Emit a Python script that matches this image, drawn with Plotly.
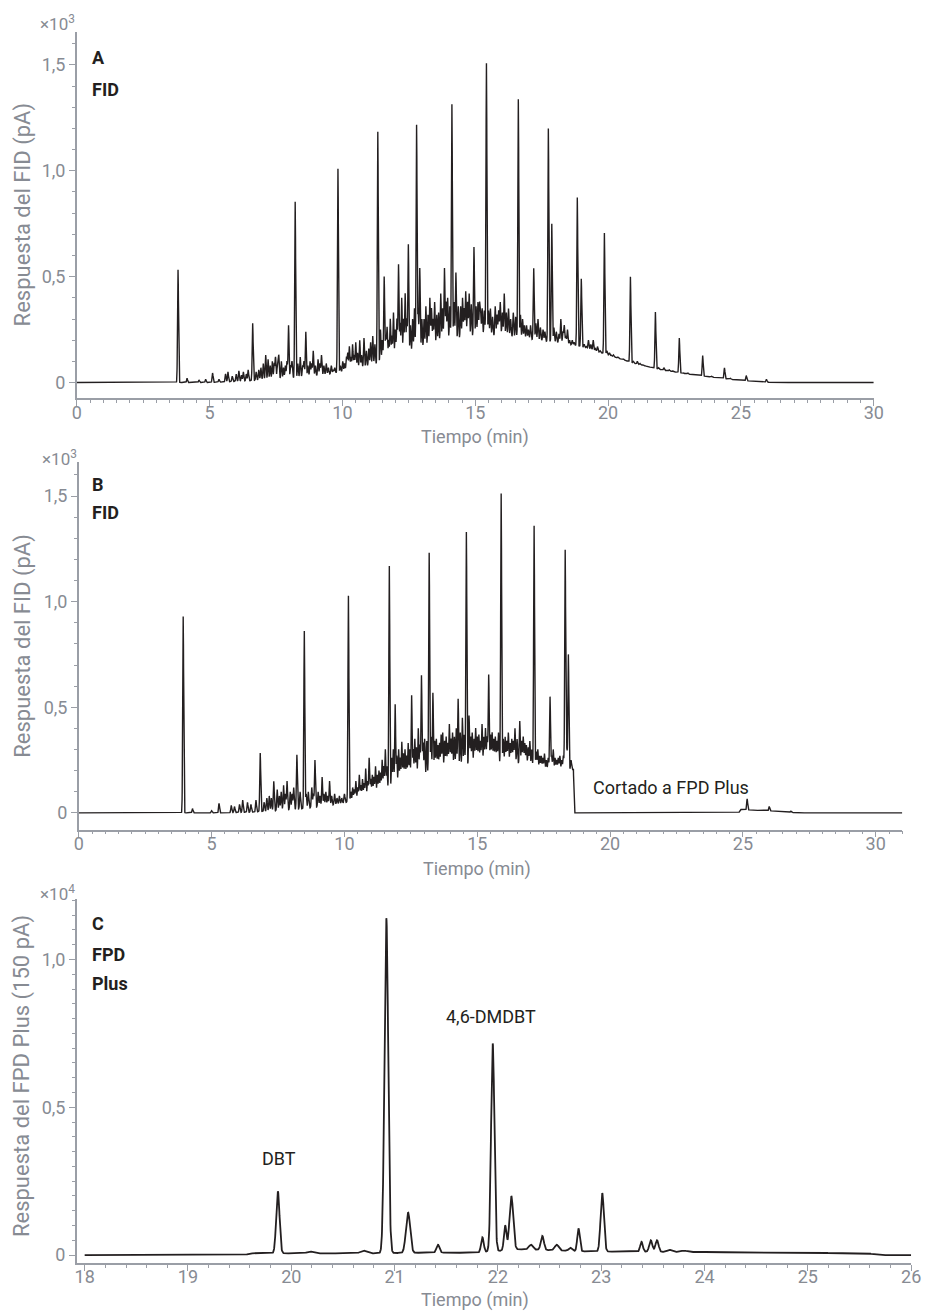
import numpy as np
import plotly.graph_objects as go

# ---------------- Panel A (FID, x10^3 pA) ----------------
A_peak_time = [3.81, 4.15, 4.6, 4.85, 5.11, 5.35, 5.6, 5.69, 5.85, 6.0, 6.1, 6.2, 6.27, 6.38, 6.45,
               6.62, 6.75, 6.85, 6.93, 7.02, 7.11, 7.2, 7.28, 7.36, 7.43, 7.48, 7.55, 7.6, 7.7, 7.78,
               7.85, 7.91, 7.97, 8.05, 8.1, 8.22, 8.32, 8.41, 8.5, 8.55, 8.62, 8.7, 8.78, 8.84, 8.9,
               8.98, 9.08, 9.15, 9.21, 9.3, 9.39, 9.47, 9.58, 9.65, 9.71, 9.83, 9.92, 10.01, 10.08, 10.15,
               10.2, 10.26, 10.32, 10.38, 10.44, 10.5, 10.57, 10.65, 10.72, 10.81, 10.9, 10.99, 11.06, 11.14, 11.22,
               11.33, 11.43, 11.5, 11.57, 11.63, 11.68, 11.74, 11.8, 11.86, 11.92, 11.99, 12.05, 12.11, 12.17, 12.23,
               12.3, 12.36, 12.42, 12.48, 12.56, 12.64, 12.71, 12.79, 12.85, 12.91, 12.99, 13.07, 13.14, 13.22, 13.29,
               13.35, 13.41, 13.47, 13.55, 13.62, 13.7, 13.77, 13.84, 13.9, 13.96, 14.04, 14.12, 14.2, 14.27, 14.36,
               14.45, 14.52, 14.58, 14.64, 14.71, 14.77, 14.85, 14.95, 15.03, 15.1, 15.16, 15.2, 15.26, 15.34, 15.42,
               15.5, 15.57, 15.65, 15.75, 15.82, 15.88, 15.94, 16.02, 16.09, 16.17, 16.25, 16.33, 16.43, 16.52, 16.62,
               16.7, 16.78, 16.85, 16.93, 17.0, 17.08, 17.2, 17.28, 17.36, 17.45, 17.55, 17.62, 17.75, 17.88, 17.96,
               18.05, 18.15, 18.22, 18.3, 18.35, 18.41, 18.47, 18.55, 18.65, 18.72, 18.84, 18.99, 19.1, 19.18, 19.26,
               19.35, 19.44, 19.52, 19.6, 19.7, 19.86, 19.95, 20.05, 20.12, 20.2, 20.3, 20.38, 20.5, 20.6, 20.84,
               20.95, 21.1, 21.2, 21.3, 21.4, 21.5, 21.78, 21.9, 22.1, 22.3, 22.45, 22.68, 22.85, 23.0, 23.2,
               23.56, 23.7, 23.9, 24.38, 24.6, 25.2, 25.96]
A_peak_height = [0.533, 0.02, 0.012, 0.015, 0.045, 0.015, 0.04, 0.05, 0.03, 0.04, 0.055, 0.035, 0.05, 0.04, 0.06,
                 0.28, 0.05, 0.06, 0.07, 0.09, 0.13, 0.11, 0.08, 0.10, 0.09, 0.12, 0.08, 0.13, 0.10, 0.07,
                 0.08, 0.10, 0.27, 0.08, 0.10, 0.854, 0.09, 0.12, 0.08, 0.10, 0.24, 0.08, 0.10, 0.09, 0.15,
                 0.08, 0.11, 0.09, 0.13, 0.08, 0.09, 0.07, 0.08, 0.06, 0.07, 1.01, 0.08, 0.10, 0.09, 0.12,
                 0.14, 0.17, 0.12, 0.18, 0.13, 0.19, 0.14, 0.20, 0.13, 0.21, 0.15, 0.16, 0.19, 0.22, 0.18,
                 1.185, 0.25, 0.20, 0.50, 0.22, 0.26, 0.20, 0.30, 0.22, 0.33, 0.25, 0.30, 0.557, 0.28, 0.40,
                 0.30, 0.42, 0.30, 0.653, 0.27, 0.30, 0.35, 1.217, 0.33, 0.54, 0.30, 0.30, 0.36, 0.32, 0.40,
                 0.35, 0.30, 0.38, 0.32, 0.33, 0.42, 0.35, 0.54, 0.38, 0.40, 0.36, 1.315, 0.38, 0.52, 0.36,
                 0.36, 0.40, 0.35, 0.43, 0.38, 0.42, 0.37, 0.64, 0.36, 0.38, 0.37, 0.33, 0.35, 0.34, 1.508,
                 0.34, 0.35, 0.31, 0.36, 0.32, 0.34, 0.38, 0.33, 0.42, 0.33, 0.35, 0.30, 0.33, 0.31, 1.338,
                 0.32, 0.30, 0.27, 0.27, 0.25, 0.27, 0.54, 0.28, 0.30, 0.26, 0.25, 0.24, 1.20, 0.75, 0.26,
                 0.24, 0.23, 0.30, 0.24, 0.27, 0.22, 0.25, 0.20, 0.20, 0.19, 0.874, 0.49, 0.18, 0.17, 0.20,
                 0.18, 0.20, 0.16, 0.17, 0.15, 0.706, 0.15, 0.14, 0.13, 0.13, 0.12, 0.12, 0.11, 0.11, 0.50,
                 0.10, 0.10, 0.09, 0.085, 0.08, 0.075, 0.333, 0.07, 0.07, 0.06, 0.055, 0.21, 0.045, 0.045, 0.04,
                 0.127, 0.03, 0.03, 0.069, 0.02, 0.033, 0.015]
A_hump_time = [0, 5.0, 6.0, 7.0, 8.0, 9.0, 10.0, 11.0, 12.0, 13.0, 14.0, 15.0, 16.0, 17.0, 18.0,
               19.0, 20.0, 21.0, 22.0, 23.0, 24.0, 25.0, 25.8, 26.2, 30.0]
A_hump_height = [0, 0, 0.005, 0.012, 0.02, 0.03, 0.05, 0.075, 0.11, 0.15, 0.19, 0.215, 0.22, 0.205, 0.19,
                 0.17, 0.13, 0.09, 0.06, 0.04, 0.024, 0.01, 0.003, 0, 0]

# ---------------- Panel B (FID with heart-cut, x10^3 pA) ----------------
B_peak_time = [3.93, 4.28, 5.0, 5.28, 5.74, 5.86, 6.05, 6.17, 6.35, 6.48, 6.67, 6.83, 6.98, 7.08, 7.17,
               7.25, 7.34, 7.47, 7.55, 7.62, 7.71, 7.78, 7.84, 7.96, 8.03, 8.09, 8.21, 8.33, 8.49, 8.56,
               8.64, 8.77, 8.83, 8.89, 9.01, 9.08, 9.16, 9.23, 9.3, 9.37, 9.44, 9.52, 9.63, 9.72, 9.81,
               9.9, 10.0, 10.15, 10.24, 10.31, 10.37, 10.43, 10.5, 10.56, 10.62, 10.68, 10.74, 10.8, 10.87, 10.93,
               10.99, 11.05, 11.11, 11.17, 11.24, 11.3, 11.36, 11.42, 11.48, 11.54, 11.6, 11.69, 11.78, 11.84, 11.91,
               11.97, 12.04, 12.1, 12.16, 12.22, 12.28, 12.34, 12.4, 12.46, 12.53, 12.59, 12.65, 12.71, 12.78, 12.84,
               12.9, 12.96, 13.02, 13.1, 13.19, 13.26, 13.33, 13.4, 13.46, 13.52, 13.58, 13.64, 13.7, 13.77, 13.83,
               13.89, 13.95, 14.01, 14.07, 14.14, 14.21, 14.28, 14.36, 14.44, 14.51, 14.59, 14.69, 14.75, 14.81, 14.88,
               14.94, 15.0, 15.06, 15.12, 15.18, 15.25, 15.31, 15.37, 15.43, 15.5, 15.56, 15.62, 15.68, 15.74, 15.8,
               15.9, 15.98, 16.05, 16.11, 16.17, 16.24, 16.3, 16.36, 16.42, 16.5, 16.6, 16.67, 16.73, 16.79, 16.85,
               16.92, 16.98, 17.05, 17.14, 17.22, 17.28, 17.35, 17.41, 17.47, 17.53, 17.6, 17.67, 17.74, 17.8, 17.86,
               17.93, 17.99, 18.05, 18.11, 18.18, 18.24, 18.31, 18.37, 18.43, 18.53, 25.16, 25.99, 26.8]
B_peak_height = [0.93, 0.02, 0.01, 0.045, 0.035, 0.03, 0.04, 0.06, 0.05, 0.04, 0.06, 0.283, 0.05, 0.07, 0.08,
                 0.07, 0.15, 0.11, 0.08, 0.10, 0.13, 0.09, 0.15, 0.10, 0.09, 0.12, 0.275, 0.10, 0.861, 0.09,
                 0.10, 0.12, 0.09, 0.25, 0.10, 0.08, 0.17, 0.09, 0.10, 0.08, 0.15, 0.08, 0.09, 0.07, 0.08,
                 0.07, 0.09, 1.028, 0.10, 0.12, 0.11, 0.15, 0.12, 0.18, 0.13, 0.16, 0.14, 0.21, 0.15, 0.26,
                 0.16, 0.18, 0.17, 0.22, 0.18, 0.20, 0.19, 0.25, 0.22, 0.30, 0.22, 1.169, 0.26, 0.30, 0.513,
                 0.27, 0.30, 0.26, 0.335, 0.28, 0.30, 0.27, 0.33, 0.30, 0.556, 0.30, 0.35, 0.31, 0.40, 0.32,
                 0.65, 0.33, 0.35, 0.34, 1.232, 0.36, 0.569, 0.34, 0.35, 0.32, 0.33, 0.37, 0.38, 0.34, 0.36,
                 0.33, 0.42, 0.35, 0.38, 0.36, 0.40, 0.54, 0.38, 0.45, 0.37, 1.33, 0.46, 0.36, 0.38, 0.35,
                 0.40, 0.36, 0.37, 0.34, 0.42, 0.36, 0.40, 0.36, 0.654, 0.37, 0.38, 0.35, 0.36, 0.34, 0.38,
                 1.512, 0.35, 0.36, 0.34, 0.38, 0.33, 0.35, 0.34, 0.40, 0.35, 0.435, 0.34, 0.36, 0.33, 0.32,
                 0.31, 0.34, 0.30, 1.359, 0.29, 0.30, 0.27, 0.27, 0.26, 0.28, 0.25, 0.26, 0.55, 0.27, 0.30,
                 0.26, 0.25, 0.26, 0.27, 0.25, 0.27, 1.246, 0.30, 0.75, 0.25, 0.066, 0.03, 0.008]
B_hump_time = [0, 5.5, 6.5, 7.5, 8.5, 9.5, 10.5, 11.5, 12.5, 13.5, 14.5, 15.5, 16.5, 17.5, 18.62,
               18.65, 24.85, 24.9, 25.5, 26.0, 26.8, 27.0, 31.0]
B_hump_height = [0, 0, 0.003, 0.01, 0.02, 0.035, 0.06, 0.095, 0.14, 0.18, 0.21, 0.225, 0.23, 0.2, 0.205,
                 0, 0, 0.016, 0.012, 0.01, 0.003, 0, 0]

# ---------------- Panel C (FPD Plus, x10^4) ----------------
C_peak_time = [19.87, 20.18, 20.70, 20.92, 21.13, 21.42, 21.85, 21.95, 22.07, 22.13, 22.32, 22.43, 22.57,
               22.70, 22.78, 23.01, 23.20, 23.39, 23.48, 23.54, 23.66, 23.80, 23.95]
C_peak_height = [0.216, 0.012, 0.015, 1.14, 0.145, 0.035, 0.06, 0.716, 0.10, 0.20, 0.035, 0.065, 0.035,
                 0.025, 0.09, 0.21, 0.014, 0.045, 0.05, 0.05, 0.018, 0.015, 0.012]
C_peak_width = [0.016, 0.03, 0.03, 0.018, 0.02, 0.015, 0.013, 0.016, 0.012, 0.018, 0.02, 0.015, 0.02,
                0.015, 0.012, 0.016, 0.03, 0.013, 0.015, 0.015, 0.02, 0.03, 0.03]
C_hump_time = [18.0, 19.55, 19.6, 20.8, 21.2, 21.8, 22.2, 22.9, 23.1, 24.0, 25.0, 25.6, 25.7, 26.0]
C_hump_height = [0, 0, 0.006, 0.006, 0.008, 0.008, 0.02, 0.012, 0.012, 0.01, 0.008, 0.005, 0, 0]


def chromatogram(t0, t1, step, peak_t, peak_h, widths, hump_t, hump_h):
    grid = np.union1d(np.arange(t0, t1 + step / 2, step), np.array(peak_t))
    base = np.interp(grid, hump_t, hump_h)
    y = base.copy()
    for tp, hp, w in zip(peak_t, peak_h, widths):
        amp = max(hp - float(np.interp(tp, hump_t, hump_h)), 0.0)
        y += amp * np.exp(-0.5 * ((grid - tp) / w) ** 2)
    return grid, y


W = 930
H = 1315

def px(x):
    return x / W

def py(y):
    return 1 - y / H

axis_col = "#9a9ea6"
tick_col = "#878b93"
text_dark = "#231f20"
font_fam = "Roboto"

fig = go.Figure()

tA, yA = chromatogram(0, 30, 0.004, A_peak_time, A_peak_height, [0.018] * len(A_peak_time),
                      A_hump_time, A_hump_height)
tB, yB = chromatogram(0, 31, 0.004, B_peak_time, B_peak_height, [0.018] * len(B_peak_time),
                      B_hump_time, B_hump_height)
tC, yC = chromatogram(18, 26, 0.002, C_peak_time, C_peak_height, C_peak_width,
                      C_hump_time, C_hump_height)

fig.add_trace(go.Scatter(x=tA, y=yA, mode="lines", line=dict(color=text_dark, width=1.4),
                         xaxis="x", yaxis="y", showlegend=False, hoverinfo="skip"))
fig.add_trace(go.Scatter(x=tB, y=yB, mode="lines", line=dict(color=text_dark, width=1.4),
                         xaxis="x2", yaxis="y2", showlegend=False, hoverinfo="skip"))
fig.add_trace(go.Scatter(x=tC, y=yC, mode="lines", line=dict(color=text_dark, width=1.8),
                         xaxis="x3", yaxis="y3", showlegend=False, hoverinfo="skip"))


def xaxis(domain, rng, vals, minor_dt, anchor):
    return dict(domain=domain, range=rng, anchor=anchor, showline=True, linecolor=axis_col, linewidth=1.5,
                ticks="outside", ticklen=6, tickwidth=1.3, tickcolor=axis_col,
                tickmode="array", tickvals=vals, ticktext=[str(v) for v in vals],
                ticklabelstandoff=-9,
                minor=dict(tickmode="linear", tick0=0, dtick=minor_dt, ticks="outside", ticklen=3,
                           tickwidth=1, tickcolor=axis_col),
                tickfont=dict(family=font_fam, size=18, color=tick_col),
                showgrid=False, zeroline=False)


def yaxis(domain, rng, vals, texts, minor_dt, anchor):
    return dict(domain=domain, range=rng, anchor=anchor, showline=True, linecolor=axis_col, linewidth=1.5,
                ticks="outside", ticklen=6, tickwidth=1.3, tickcolor=axis_col,
                tickmode="array", tickvals=vals, ticktext=texts,
                minor=dict(tickmode="linear", tick0=0, dtick=minor_dt, ticks="outside", ticklen=3,
                           tickwidth=1, tickcolor=axis_col),
                tickfont=dict(family=font_fam, size=18, color=tick_col),
                showgrid=False, zeroline=False)


A_xticks = [0, 5, 10, 15, 20, 25, 30]
B_xticks = [0, 5, 10, 15, 20, 25, 30]
C_xticks = [18, 19, 20, 21, 22, 23, 24, 25, 26]
AB_yticks = [0, 0.5, 1.0, 1.5]
AB_ytext = ["0", "0,5", "1,0", "1,5"]
C_yticks = [0, 0.5, 1.0]
C_ytext = ["0", "0,5", "1,0"]

fig.update_layout(
    width=W, height=H, margin=dict(l=0, r=0, t=0, b=0),
    paper_bgcolor="white", plot_bgcolor="white",
    xaxis=xaxis([px(73), px(883)], [0, 30], A_xticks, 0.5, "y"),
    yaxis=yaxis([py(399), py(32)], [-0.075, 1.656], AB_yticks, AB_ytext, 0.1, "x"),
    xaxis2=xaxis([px(75), px(912)], [0, 31], B_xticks, 0.5, "y2"),
    yaxis2=yaxis([py(831), py(463)], [-0.08, 1.66], AB_yticks, AB_ytext, 0.1, "x2"),
    xaxis3=xaxis([px(73), px(921)], [17.924, 26.0], C_xticks, 0.2, "y3"),
    yaxis3=yaxis([py(1265), py(900)], [-0.027, 1.206], C_yticks, C_ytext, 0.05, "x3"),
)

ann = []

def add_text(text, x, y, size=18, color=text_dark, bold=False, xanchor="left", yanchor="middle", angle=0):
    ann.append(dict(text=("<b>%s</b>" % text) if bold else text, x=px(x), y=py(y), xref="paper", yref="paper",
                    showarrow=False, xanchor=xanchor, yanchor=yanchor, textangle=angle,
                    font=dict(family=font_fam, size=size, color=color)))

# exponent labels
add_text("×10<sup>3</sup>", 73, 23, size=17, color=tick_col, xanchor="right")
add_text("×10<sup>3</sup>", 75, 459, size=17, color=tick_col, xanchor="right")
add_text("×10<sup>4</sup>", 73, 894, size=17, color=tick_col, xanchor="right")
# panel labels
add_text("A", 86, 58, bold=True)
add_text("FID", 86, 90, bold=True)
add_text("B", 86, 485, bold=True)
add_text("FID", 86, 513, bold=True)
add_text("C", 86, 925, bold=True)
add_text("FPD", 86, 956, bold=True)
add_text("Plus", 86, 985, bold=True)
# axis titles
add_text("Tiempo (min)", 478, 438, color=tick_col, xanchor="center")
add_text("Tiempo (min)", 480, 870, color=tick_col, xanchor="center")
add_text("Tiempo (min)", 478, 1302, color=tick_col, xanchor="center")
add_text("Respuesta del FID (pA)", 18, 215, size=22, color=tick_col, xanchor="center", angle=-90)
add_text("Respuesta del FID (pA)", 18, 647, size=22, color=tick_col, xanchor="center", angle=-90)
add_text("Respuesta del FPD Plus (150 pA)", 18, 1078, size=22, color=tick_col, xanchor="center", angle=-90)
# peak annotations
add_text("Cortado a FPD Plus", 677, 789, xanchor="center")
add_text("DBT", 278, 1160, xanchor="center")
add_text("4,6-DMDBT", 494, 1018, xanchor="center")

fig.update_layout(annotations=ann)

fig.write_html("out.html")
